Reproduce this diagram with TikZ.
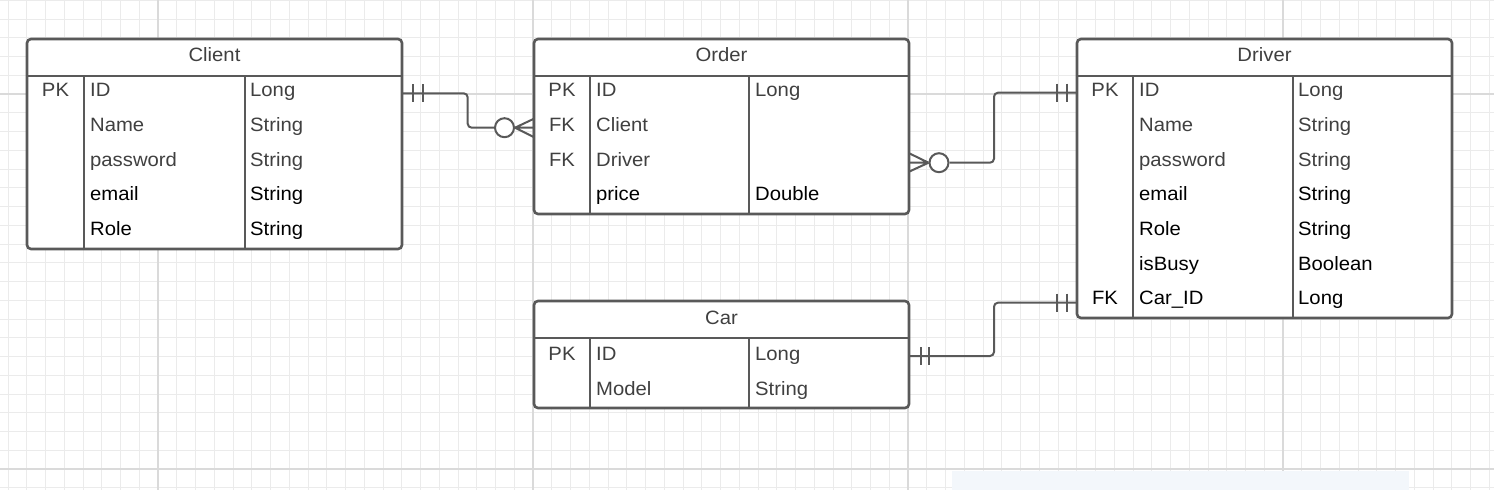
\documentclass[tikz,border=0pt]{standalone}
\usepackage{fontspec}
\usetikzlibrary{calc}
\setmainfont{Liberation Sans}[FakeStretch=1.05]
\definecolor{gridminor}{HTML}{EBEBEB}
\definecolor{gridmajor}{HTML}{DADADA}
\definecolor{boxline}{HTML}{595959}
\definecolor{tgray}{HTML}{404040}
\definecolor{tblack}{HTML}{000000}
\definecolor{paleblue}{HTML}{F3F7FB}
\tikzset{
  tblbox/.style={draw=boxline, line width=2.6pt, rounded corners=4pt, fill=white, anchor=north west, inner sep=0pt, outer sep=0pt},
  tblline/.style={draw=boxline, line width=2.6pt},
  conn/.style={draw=boxline, line width=2pt, rounded corners=4pt},
  mark1/.style={draw=boxline, line width=2pt},
  txt/.style={font=\fontsize{19.3}{23}\selectfont, inner sep=0pt},
  ttl/.style={txt, text=tgray, anchor=base},
}
\begin{document}
\begin{tikzpicture}[x=1pt,y=-1pt]
\useasboundingbox (0,0) rectangle (1494,490);
\fill[white] (0,0) rectangle (1494,490);
% grid
\foreach \i in {0,...,79} \draw[gridminor, line width=1pt] ({8+18.75*\i},0) -- ({8+18.75*\i},490);
\foreach \j in {0,...,26} \draw[gridminor, line width=1pt] (0,{0.25+18.75*\j}) -- (1494,{0.25+18.75*\j});
\foreach \xx in {158,533,908,1283} \draw[gridmajor, line width=1.4pt] (\xx,0) -- (\xx,490);
\foreach \yy in {94,469} \draw[gridmajor, line width=1.4pt] (0,\yy) -- (1494,\yy);
\fill[paleblue] (952,471) rectangle (1409,490);

% ---------- Client ----------
\node[tblbox, minimum width=375pt, minimum height=210pt] (client) at (27,39) {};
\draw[tblline] (27,76) -- (402,76) (84,76) -- (84,249) (245,76) -- (245,249);
\node[ttl] (client-title) at (214.5,61.7) {Client};
\foreach \k/\n/\t/\c [count=\i from 0] in {PK/ID/Long/tgray, {}/Name/String/tgray, {}/password/String/tgray, {}/email/String/tblack, {}/Role/String/tblack}{
  \node[txt, text=\c, anchor=base] (client-k\i) at (55.5,{96.7+34.7*\i}) {\k};
  \node[txt, text=\c, anchor=base west] (client-n\i) at (90,{96.7+34.7*\i}) {\n};
  \node[txt, text=\c, anchor=base west] (client-t\i) at (250,{96.7+34.7*\i}) {\t};
}

% ---------- Order ----------
\node[tblbox, minimum width=375pt, minimum height=175pt] (order) at (534,39) {};
\draw[tblline] (534,76) -- (909,76) (590,76) -- (590,214) (749,76) -- (749,214);
\node[ttl] (order-title) at (721.5,61.7) {Order};
\foreach \k/\n/\t/\c [count=\i from 0] in {PK/ID/Long/tgray, FK/Client/{}/tgray, FK/Driver/{}/tgray, {}/price/Double/tblack}{
  \node[txt, text=\c, anchor=base] (order-k\i) at (562,{96.7+34.7*\i}) {\k};
  \node[txt, text=\c, anchor=base west] (order-n\i) at (596,{96.7+34.7*\i}) {\n};
  \node[txt, text=\c, anchor=base west] (order-t\i) at (755,{96.7+34.7*\i}) {\t};
}

% ---------- Driver ----------
\node[tblbox, minimum width=375pt, minimum height=279pt] (driver) at (1077,39) {};
\draw[tblline] (1077,76) -- (1452,76) (1133,76) -- (1133,318) (1293,76) -- (1293,318);
\node[ttl] (driver-title) at (1264.5,61.7) {Driver};
\foreach \k/\n/\t/\c [count=\i from 0] in {PK/ID/Long/tgray, {}/Name/String/tgray, {}/password/String/tgray, {}/email/String/tblack, {}/Role/String/tblack, {}/isBusy/Boolean/tblack, FK/Car\_ID/Long/tblack}{
  \node[txt, text=\c, anchor=base] (driver-k\i) at (1105,{96.7+34.7*\i}) {\k};
  \node[txt, text=\c, anchor=base west] (driver-n\i) at (1139,{96.7+34.7*\i}) {\n};
  \node[txt, text=\c, anchor=base west] (driver-t\i) at (1298,{96.7+34.7*\i}) {\t};
}

% ---------- Car ----------
\node[tblbox, minimum width=375pt, minimum height=107pt] (car) at (534,301) {};
\draw[tblline] (534,338) -- (909,338) (590,338) -- (590,408) (749,338) -- (749,408);
\node[ttl] (car-title) at (721.5,324.3) {Car};
\foreach \k/\n/\t/\c [count=\i from 0] in {PK/ID/Long/tgray, {}/Model/String/tgray}{
  \node[txt, text=\c, anchor=base] (car-k\i) at (562,{360.7+34.7*\i}) {\k};
  \node[txt, text=\c, anchor=base west] (car-n\i) at (596,{360.7+34.7*\i}) {\n};
  \node[txt, text=\c, anchor=base west] (car-t\i) at (755,{360.7+34.7*\i}) {\t};
}

% ---------- Connectors ----------
\coordinate (cl-out) at (client.east |- 0,93.3);
\coordinate (or-in) at (order.west |- 0,127.7);
\coordinate (or-out) at (order.east |- 0,162.7);
\coordinate (dr-in1) at (driver.west |- 0,92.7);
\coordinate (dr-in2) at (driver.west |- 0,302.7);
\coordinate (ca-out) at (car.east |- 0,356);

% Client -- Order
\node[circle, draw=boxline, line width=2pt, minimum size=19pt, inner sep=0pt, fill=white] (c1) at (504.5,127.7) {};
\draw[conn] (cl-out) -- (467.7,93.3) -- (467.7,127.7) -- (c1.west);
\draw[mark1] (413,84.3) -- (413,102.3) (422.7,84.3) -- (422.7,102.3);
\draw[mark1] (c1.east) -- (or-in) (c1.east) -- ($(or-in)+(0,-9)$) (c1.east) -- ($(or-in)+(0,9.5)$);

% Order -- Driver
\node[circle, draw=boxline, line width=2pt, minimum size=19pt, inner sep=0pt, fill=white] (c2) at (939,162.7) {};
\draw[conn] (c2.east) -- (994,162.7) -- (994,92.7) -- (dr-in1);
\draw[mark1] (1057,83.7) -- (1057,101.7) (1066.7,83.7) -- (1066.7,101.7);
\draw[mark1] (c2.west) -- (or-out) (c2.west) -- ($(or-out)+(0,-9.5)$) (c2.west) -- ($(or-out)+(0,9)$);

% Car -- Driver
\draw[conn] (ca-out) -- (994,356) -- (994,302.7) -- (dr-in2);
\draw[mark1] (1057,293.7) -- (1057,311.7) (1066.7,293.7) -- (1066.7,311.7);
\draw[mark1] (920.7,347) -- (920.7,365) (929.3,347) -- (929.3,365);
\end{tikzpicture}
\end{document}
